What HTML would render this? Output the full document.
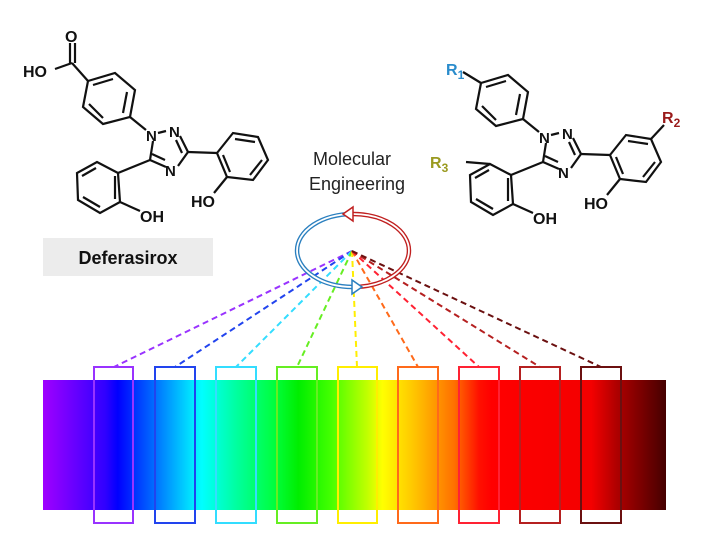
<!DOCTYPE html>
<html><head><meta charset="utf-8"><style>
html,body{margin:0;padding:0;background:#fff;}
svg{display:block}
text{font-family:"Liberation Sans",sans-serif;}
</style></head><body>
<svg width="718" height="537" viewBox="0 0 718 537">
<defs>
<linearGradient id="sp" x1="43" y1="0" x2="666" y2="0" gradientUnits="userSpaceOnUse">
<stop offset="0" stop-color="#a000ff"/>
<stop offset="0.1" stop-color="#3000ff"/>
<stop offset="0.12" stop-color="#0000ff"/>
<stop offset="0.18" stop-color="#0070ff"/>
<stop offset="0.24" stop-color="#00e8ff"/>
<stop offset="0.255" stop-color="#00ffff"/>
<stop offset="0.31" stop-color="#00ffa0"/>
<stop offset="0.37" stop-color="#00ff40"/>
<stop offset="0.41" stop-color="#00ee00"/>
<stop offset="0.46" stop-color="#40ff00"/>
<stop offset="0.52" stop-color="#c0ff00"/>
<stop offset="0.545" stop-color="#ffff00"/>
<stop offset="0.6" stop-color="#ffc000"/>
<stop offset="0.66" stop-color="#ff7000"/>
<stop offset="0.7" stop-color="#ff1000"/>
<stop offset="0.72" stop-color="#ff0000"/>
<stop offset="0.88" stop-color="#f40000"/>
<stop offset="0.92" stop-color="#b00000"/>
<stop offset="1" stop-color="#450000"/>
</linearGradient>
<g id="core" fill="none" stroke="#111" stroke-width="2.2">
<!-- top ring -->
<polygon points="88,81 115,73 135,90 130,117 103,124 83,107"/>
<line x1="93" y1="85" x2="113" y2="79"/><line x1="127" y1="92" x2="123" y2="113"/><line x1="89" y1="104" x2="103" y2="118"/>
<!-- ring to N1 -->
<line x1="130" y1="117" x2="146" y2="130"/>
<!-- triazole -->
<line x1="153" y1="141" x2="150" y2="160"/>
<line x1="150" y1="160" x2="166" y2="167"/><line x1="152" y1="154" x2="165" y2="160"/>
<line x1="178" y1="166" x2="188" y2="152"/>
<line x1="188" y1="152" x2="180" y2="136"/><line x1="182" y1="153" x2="176" y2="140"/>
<line x1="158" y1="133" x2="166" y2="131"/>
<!-- left phenol -->
<line x1="150" y1="160" x2="118" y2="173"/>
<polygon points="118,173 97,162 77,173 78,200 100,213 120,202"/>
<line x1="96" y1="168" x2="82" y2="176"/><line x1="83" y1="197" x2="100" y2="207"/><line x1="115" y1="176" x2="115" y2="199"/>
<line x1="120" y1="202" x2="140" y2="211"/>
<!-- right phenol -->
<line x1="188" y1="152" x2="217" y2="153"/>
<polygon points="217,153 233,133 258,137 268,160 253,180 227,177"/>
<line x1="235" y1="139" x2="255" y2="142"/><line x1="262" y1="160" x2="250" y2="175"/><line x1="223" y1="155" x2="230" y2="172"/>
<line x1="227" y1="177" x2="214" y2="193"/>
</g>
<g id="coretxt" font-size="16" font-weight="bold" fill="#111">
<text x="146" y="141" font-size="15">N</text><text x="169" y="137" font-size="15">N</text><text x="165" y="176" font-size="15">N</text>
<text x="140" y="222">OH</text>
<text x="191" y="207">HO</text>
</g>
</defs>

<!-- left molecule -->
<use href="#core"/><use href="#coretxt"/>
<g fill="none" stroke="#111" stroke-width="2.2">
<line x1="88" y1="81" x2="72" y2="63"/>
<line x1="72" y1="63" x2="55" y2="69"/>
<line x1="70" y1="63" x2="70" y2="43"/><line x1="75" y1="63" x2="75" y2="43"/>
</g>
<text x="65" y="42" font-size="16" font-weight="bold" fill="#111">O</text>
<text x="23" y="77" font-size="16" font-weight="bold" fill="#111">HO</text>
<rect x="43" y="238" width="170" height="38" fill="#ececec"/>
<text x="128" y="264" font-size="18" font-weight="bold" text-anchor="middle" fill="#111">Deferasirox</text>

<!-- right molecule -->
<g transform="translate(393,2)"><use href="#core"/><use href="#coretxt"/>
<g fill="none" stroke="#111" stroke-width="2.2">
<line x1="88" y1="81" x2="70" y2="70"/>
<line x1="97" y1="162" x2="73" y2="160"/>
<line x1="258" y1="137" x2="271" y2="123"/>
</g></g>
<text x="446" y="75" font-size="16" font-weight="bold" fill="#2a8ccc">R<tspan font-size="12" dy="4">1</tspan></text>
<text x="430" y="168" font-size="16" font-weight="bold" fill="#9a9a20">R<tspan font-size="12" dy="4">3</tspan></text>
<text x="662" y="123" font-size="16" font-weight="bold" fill="#9a1a1a">R<tspan font-size="12" dy="4">2</tspan></text>

<!-- Molecular Engineering -->
<text x="352" y="165" font-size="18" text-anchor="middle" fill="#222">Molecular</text>
<text x="357" y="190" font-size="18" text-anchor="middle" fill="#222">Engineering</text>

<!-- spectrum -->
<rect x="43" y="380" width="623" height="130" fill="url(#sp)"/>

<g fill="none" stroke-width="2" stroke-dasharray="6,4">
<line x1="352" y1="251" x2="114" y2="367" stroke="#9933ff"/>
<line x1="352" y1="251" x2="175" y2="367" stroke="#2244ee"/>
<line x1="352" y1="251" x2="236" y2="367" stroke="#33ddff"/>
<line x1="352" y1="251" x2="297" y2="367" stroke="#66ee22"/>
<line x1="352" y1="251" x2="357" y2="367" stroke="#ffee00"/>
<line x1="352" y1="251" x2="418" y2="367" stroke="#ff6a1a"/>
<line x1="352" y1="251" x2="479" y2="367" stroke="#ff2233"/>
<line x1="352" y1="251" x2="540" y2="367" stroke="#b52020"/>
<line x1="352" y1="251" x2="601" y2="367" stroke="#6b1010"/>
</g>
<g fill="none" stroke-width="2">
<rect x="94" y="367" width="39" height="156" stroke="#9933ff"/>
<rect x="155" y="367" width="40" height="156" stroke="#2244ee"/>
<rect x="216" y="367" width="40" height="156" stroke="#33ddff"/>
<rect x="277" y="367" width="40" height="156" stroke="#66ee22"/>
<rect x="338" y="367" width="39" height="156" stroke="#ffee00"/>
<rect x="398" y="367" width="40" height="156" stroke="#ff6a1a"/>
<rect x="459" y="367" width="40" height="156" stroke="#ff2233"/>
<rect x="520" y="367" width="40" height="156" stroke="#b52020"/>
<rect x="581" y="367" width="40" height="156" stroke="#6b1010"/>
</g>

<!-- cycle arrows -->
<g fill="none" stroke-width="4.5">
<path d="M353,214 A46,30 0 0 0 353,287" stroke="#2a7fbf"/>
<path d="M353,214 A46,30 0 0 1 353,287" stroke="#c02020"/>
</g>
<g fill="none" stroke-width="1.8" stroke="#fff">
<path d="M353,214 A46,30 0 0 0 353,287"/>
<path d="M353,214 A46,30 0 0 1 353,287"/>
</g>
<polygon points="352,280 352,294 362,287" fill="#fff" stroke="#2a7fbf" stroke-width="1.5"/>
<polygon points="353,207 353,221 343,214" fill="#fff" stroke="#c02020" stroke-width="1.5"/>
</svg>
</body></html>
